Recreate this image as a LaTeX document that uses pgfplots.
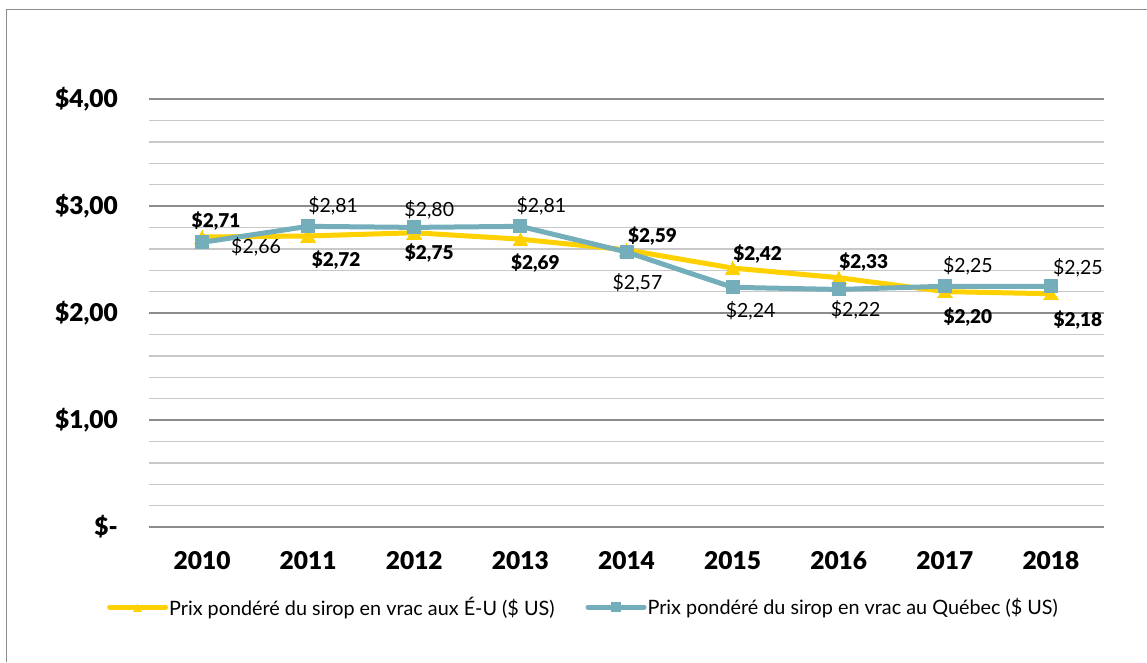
\documentclass[border=0pt]{standalone}
\usepackage{pgfplots}
\pgfplotsset{compat=1.18}
\usepackage{fontspec}
\setmainfont{Lato}[BoldFont={Lato Black}]
\definecolor{cy}{RGB}{255,209,0}
\definecolor{cb}{RGB}{116,174,186}
\definecolor{gmaj}{RGB}{140,140,140}
\definecolor{gmin}{RGB}{200,200,200}
\begin{document}
\begin{tikzpicture}[x=1pt,y=1pt]
\useasboundingbox (0,0) rectangle (1147,662);
\draw[gmaj, line width=1.5pt] (6.5,0) -- (6.5,652.5) -- (1147,652.5);
\begin{axis}[
  at={(149pt,135pt)}, anchor=south west,
  scale only axis, width=955pt, height=428pt,
  xmin=-0.5, xmax=8.5, ymin=0, ymax=4,
  axis line style={draw=none},
  xtick={0,...,8},
  xticklabels={2010,2011,2012,2013,2014,2015,2016,2017,2018},
  ytick={0,1,2,3,4},
  yticklabels={{\$-},{\$1,00},{\$2,00},{\$3,00},{\$4,00}},
  minor y tick num=4,
  tick style={draw=none},
  ymajorgrids, yminorgrids,
  major grid style={gmaj, line width=1.6pt},
  minor grid style={gmin, line width=1.4pt},
  ticklabel style={font=\fontsize{24.5}{27}\selectfont\bfseries, inner sep=0pt},
  yticklabel style={anchor=east, xshift=-31pt},
  xticklabel style={anchor=north, yshift=-24pt},
  clip=false,
  legend columns=2,
  legend style={draw=none, fill=none, at={(0.4545,-0.187)}, anchor=center,
    font=\fontsize{19.8}{22}\selectfont,
    nodes={inner xsep=1pt},
    /tikz/every even column/.append style={column sep=30pt}},
  legend cell align=left,
  legend image code/.code={
    \draw[#1, mark repeat=2, mark phase=2, mark size=4.5pt, line cap=round] plot coordinates {(0pt,0pt) (28pt,0pt) (56pt,0pt)};
  },
]
\addplot[cy, line width=5pt, mark=triangle*, mark size=8.5pt, mark options={line width=0pt, yshift=-2pt}] coordinates {
(0,2.71) (1,2.72) (2,2.75) (3,2.69) (4,2.59) (5,2.42) (6,2.33) (7,2.20) (8,2.18)};
\addlegendentry{Prix pondéré du sirop en vrac aux É-U (\$ US)}
\addplot[cb, line width=5pt, mark=square*, mark size=6.5pt, mark options={line width=0pt}] coordinates {
(0,2.66) (1,2.81) (2,2.80) (3,2.81) (4,2.57) (5,2.24) (6,2.22) (7,2.25) (8,2.25)};
\addlegendentry{Prix pondéré du sirop en vrac au Québec (\$ US)}
\begin{scope}[every node/.style={font=\fontsize{19}{21}\selectfont\bfseries, inner sep=0pt}]
\node[xshift=14pt, yshift=16pt] at (axis cs:0,2.71) {\$2,71};
\node[xshift=28pt, yshift=-24pt] at (axis cs:1,2.72) {\$2,72};
\node[xshift=15pt, yshift=-20pt] at (axis cs:2,2.75) {\$2,75};
\node[xshift=15pt, yshift=-24pt] at (axis cs:3,2.69) {\$2,69};
\node[xshift=26pt, yshift=14pt] at (axis cs:4,2.59) {\$2,59};
\node[xshift=25pt, yshift=14pt] at (axis cs:5,2.42) {\$2,42};
\node[xshift=25pt, yshift=16pt] at (axis cs:6,2.33) {\$2,33};
\node[xshift=23pt, yshift=-25pt] at (axis cs:7,2.20) {\$2,20};
\node[xshift=27pt, yshift=-26pt] at (axis cs:8,2.18) {\$2,18};
\end{scope}
\begin{scope}[every node/.style={font=\fontsize{19.5}{22}\selectfont, inner sep=0pt}]
\node[xshift=54pt, yshift=-4pt] at (axis cs:0,2.66) {\$2,66};
\node[xshift=25pt, yshift=21pt] at (axis cs:1,2.81) {\$2,81};
\node[xshift=15pt, yshift=18pt] at (axis cs:2,2.80) {\$2,80};
\node[xshift=21pt, yshift=21pt] at (axis cs:3,2.81) {\$2,81};
\node[xshift=11pt, yshift=-31pt] at (axis cs:4,2.57) {\$2,57};
\node[xshift=18pt, yshift=-24pt] at (axis cs:5,2.24) {\$2,24};
\node[xshift=17pt, yshift=-20pt] at (axis cs:6,2.22) {\$2,22};
\node[xshift=23pt, yshift=20pt] at (axis cs:7,2.25) {\$2,25};
\node[xshift=27pt, yshift=18pt] at (axis cs:8,2.25) {\$2,25};
\end{scope}
\end{axis}
\end{tikzpicture}
\end{document}
